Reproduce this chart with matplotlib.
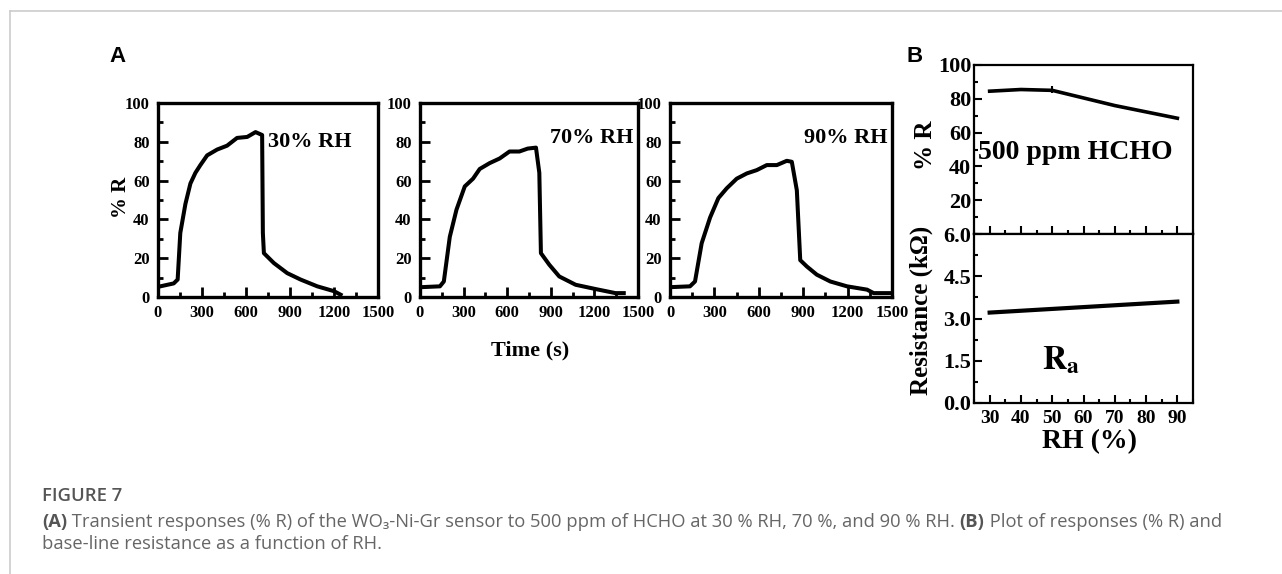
import matplotlib
matplotlib.use("Agg")
import matplotlib.pyplot as plt
from matplotlib.ticker import MultipleLocator, FormatStrFormatter
from matplotlib.lines import Line2D

plt.rcParams['font.family'] = 'Liberation Serif'
plt.rcParams['font.weight'] = 'bold'
plt.rcParams['mathtext.fontset'] = 'stix'

# transient responses
t30 = [16, 107, 134, 152, 187, 221, 255, 289, 335, 403, 471, 539, 608, 665, 710, 715, 722, 790, 881, 972, 1086, 1200, 1245]
r30 = [5.5, 7, 9, 33, 48, 58.5, 64, 68, 73, 76, 78, 82, 82.5, 85, 83.5, 33, 22.6, 17.5, 12.3, 9, 5.5, 3, 1.2]

t70 = [18, 137, 164, 205, 251, 308, 365, 411, 479, 548, 616, 684, 741, 798, 821, 832, 890, 958, 1071, 1208, 1345, 1402]
r70 = [5.1, 5.5, 8, 31, 45, 57, 61, 66, 69, 71.4, 75, 75, 76.5, 77, 64, 22.6, 16.6, 10.6, 6.3, 4.1, 2, 2]

t90 = [11, 135, 169, 214, 271, 327, 383, 451, 519, 586, 654, 722, 789, 823, 857, 880, 925, 992, 1083, 1196, 1331, 1376, 1489]
r90 = [5.1, 5.5, 8, 27.7, 41, 51, 56, 61, 63.7, 65.4, 68, 68, 70.2, 69.7, 55, 19, 15.7, 11.5, 8, 5.5, 3.8, 2, 2]

panel_labels = ['30% RH', '70% RH', '90% RH']

# panel B
rh = [30, 40, 50, 70, 90]
resp = [84.5, 85.5, 85, 76, 68.5]
rh_err = [50, 70]
resp_err = [85.5, 76]
err = [2.2, 1.0]
rh_ra = [30, 90]
ra = [3.21, 3.6]

W, H = 1282, 574
fig = plt.figure(figsize=(W / 100, H / 100), dpi=100)


def box(l, t, r, b):
    return [l / W, 1 - b / H, (r - l) / W, (b - t) / H]


def style_a(ax):
    ax.set_xlim(0, 1500)
    ax.set_ylim(0, 100)
    ax.xaxis.set_major_locator(MultipleLocator(300))
    ax.xaxis.set_minor_locator(MultipleLocator(150))
    ax.yaxis.set_major_locator(MultipleLocator(20))
    ax.yaxis.set_minor_locator(MultipleLocator(10))
    ax.tick_params(which='both', direction='in', top=False, right=False, width=2, labelsize=12, pad=6)
    ax.tick_params(which='major', length=7)
    ax.tick_params(which='minor', length=3.5)
    for s in ax.spines.values():
        s.set_linewidth(2.4)


axes_a = [fig.add_axes(box(158, 103, 378, 297)),
          fig.add_axes(box(420, 103, 638, 297)),
          fig.add_axes(box(670, 103, 892, 297))]
for ax, tt, rr in zip(axes_a, [t30, t70, t90], [r30, r70, r90]):
    ax.plot(tt, rr, color='black', lw=2.9, solid_joinstyle='round')
    style_a(ax)
axes_a[0].text(0.50, 0.80, panel_labels[0], transform=axes_a[0].transAxes, fontsize=16, va='center', ha='left')
axes_a[1].text(0.98, 0.82, panel_labels[1], transform=axes_a[1].transAxes, fontsize=16, va='center', ha='right')
axes_a[2].text(0.98, 0.82, panel_labels[2], transform=axes_a[2].transAxes, fontsize=16, va='center', ha='right')

fig.text(121 / W, 1 - 197 / H, '% R', rotation=90, fontsize=15, ha='center', va='center')
fig.text(530 / W, 1 - 350 / H, 'Time (s)', fontsize=16, ha='center', va='center')

# panel B
axt = fig.add_axes(box(974, 65, 1193, 234))
axb = fig.add_axes(box(974, 234, 1193, 403))
axt.plot(rh, resp, color='black', lw=2.6)
axt.errorbar(rh_err, resp_err, yerr=err, fmt='none', ecolor='black', elinewidth=1.5, capsize=0)
axb.plot(rh_ra, ra, color='black', lw=3)
for ax in (axt, axb):
    ax.set_xlim(25, 95)
    ax.xaxis.set_major_locator(MultipleLocator(10))
    ax.xaxis.set_minor_locator(MultipleLocator(5))
    ax.tick_params(which='both', direction='in', top=False, right=False, width=1.5, labelsize=16, pad=2)
    ax.tick_params(which='major', length=6)
    ax.tick_params(which='minor', length=3)
    for s in ax.spines.values():
        s.set_linewidth(1.6)
axt.set_ylim(0, 100)
axt.yaxis.set_minor_locator(MultipleLocator(10))
axt.set_yticks([20, 40, 60, 80, 100])
axt.tick_params(axis='x', labelbottom=False)
axb.set_ylim(0, 6)
axb.yaxis.set_major_locator(MultipleLocator(1.5))
axb.yaxis.set_minor_locator(MultipleLocator(0.75))
axb.yaxis.set_major_formatter(FormatStrFormatter('%.1f'))
axb.tick_params(axis='x', labelsize=14, pad=5)

axt.text(0.02, 0.48, '500 ppm HCHO', transform=axt.transAxes, fontsize=20, va='center', ha='left')
axb.text(0.31, 0.25, r'$\mathbf{R}_{\mathbf{a}}$', transform=axb.transAxes, fontsize=24, va='center', ha='left')
fig.text(925 / W, 1 - 145 / H, '% R', rotation=90, fontsize=18, ha='center', va='center')
fig.text(921 / W, 1 - 310 / H, 'Resistance (k\u03a9)', rotation=90, fontsize=18, ha='center', va='center')
fig.text(1090 / W, 1 - 442 / H, 'RH (%)', fontsize=20, ha='center', va='center')

# panel letters
fig.text(118 / W, 1 - 56 / H, 'A', family='Liberation Sans', fontsize=16, weight='bold', ha='center', va='center')
fig.text(915 / W, 1 - 57 / H, 'B', family='Liberation Sans', fontsize=16, weight='bold', ha='center', va='center')

# card border
fig.add_artist(Line2D([10 / W, 1], [1 - 11 / H, 1 - 11 / H], color='#cccccc', lw=1.2))
fig.add_artist(Line2D([10 / W, 10 / W], [0, 1 - 11 / H], color='#cccccc', lw=1.2))

# caption
cap_font = ['Open Sans', 'DejaVu Sans']
cap_col = '#666666'
cs = 13.2
fig.text(42 / W, 1 - 496 / H, 'FIGURE 7', family=cap_font, fontsize=13.3, weight='semibold', color='#555555', va='center')
a1 = fig.text(42 / W, 1 - 522 / H, '(A)', family=cap_font, fontsize=cs, weight='bold', color='#555555', va='center')
a2 = plt.annotate(' Transient responses (% R) of the WO\u2083-Ni-Gr sensor to 500 ppm of HCHO at 30 % RH, 70 %, and 90 % RH. ',
                  xy=(1, 0.5), xycoords=a1, family=cap_font, fontsize=cs, weight='normal', color=cap_col, va='center')
a3 = plt.annotate('(B)', xy=(1, 0.5), xycoords=a2, family=cap_font, fontsize=cs, weight='bold', color='#555555', va='center')
plt.annotate(' Plot of responses (% R) and', xy=(1, 0.5), xycoords=a3, family=cap_font, fontsize=cs, weight='normal',
             color=cap_col, va='center')
fig.text(42 / W, 1 - 544 / H, 'base-line resistance as a function of RH.', family=cap_font, fontsize=cs, weight='normal',
         color=cap_col, va='center')

fig.savefig('out.png', dpi=100)
